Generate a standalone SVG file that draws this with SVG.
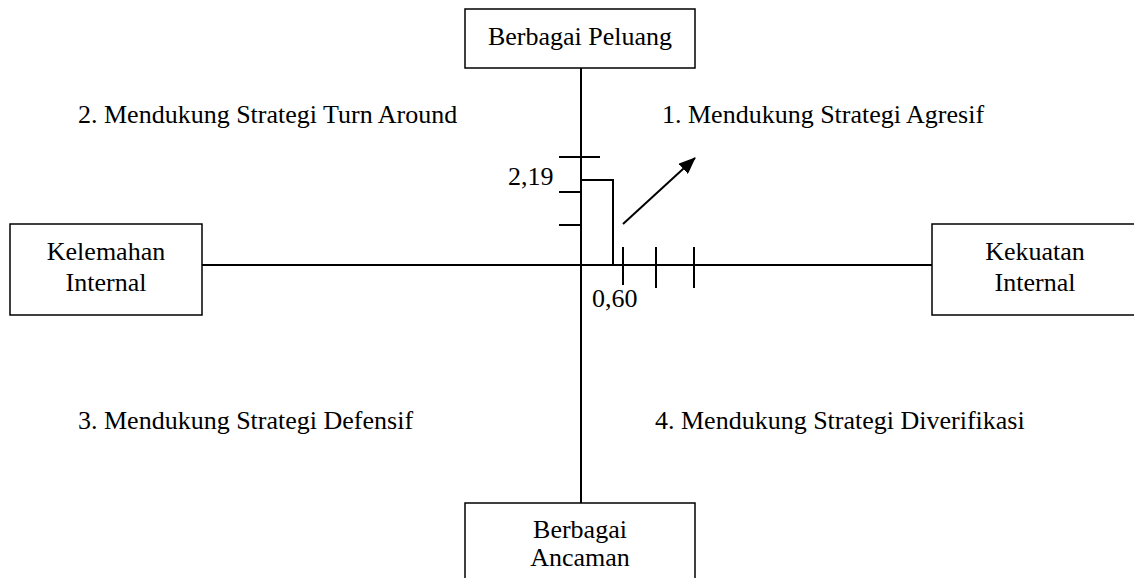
<svg xmlns="http://www.w3.org/2000/svg" width="1134" height="578" viewBox="0 0 1134 578">
<style>
text{font-family:"Liberation Serif","Times New Roman",serif;font-size:26px;fill:#000}
.c{text-anchor:middle}
.box{fill:#fff;stroke:#000;stroke-width:1.5}
.ln{stroke:#000;stroke-width:2;fill:none}
</style>
<defs>
<marker id="ah" markerWidth="17" markerHeight="14" refX="16" refY="7" orient="auto" markerUnits="userSpaceOnUse" viewBox="0 0 17 14">
<path d="M0,0 L17,7 L0,14 Z" fill="#000"/>
</marker>
</defs>
<g id="connectors">
<line class="ln" x1="581" y1="68" x2="581" y2="503"/>
<line class="ln" x1="202" y1="265" x2="932" y2="265"/>
<line class="ln" x1="559" y1="157" x2="600" y2="157"/>
<line class="ln" x1="559" y1="192" x2="581" y2="192"/>
<line class="ln" x1="559" y1="225" x2="581" y2="225"/>
<polyline class="ln" points="581,180 613,180 613,265"/>
<line class="ln" x1="623" y1="247" x2="623" y2="285"/>
<line class="ln" x1="656" y1="247" x2="656" y2="288"/>
<line class="ln" x1="694" y1="247" x2="694" y2="288"/>
<line class="ln" x1="623" y1="224" x2="695" y2="158" marker-end="url(#ah)"/>
</g>
<g id="peluang">
<rect class="box" x="465" y="9" width="230" height="59"/>
<text class="c" x="580" y="45">Berbagai Peluang</text>
</g>
<g id="ancaman">
<rect class="box" x="465" y="503" width="230" height="90"/>
<text class="c" x="580" y="538">Berbagai</text>
<text class="c" x="580" y="566">Ancaman</text>
</g>
<g id="kelemahan">
<rect class="box" x="10" y="224" width="192" height="91"/>
<text class="c" x="106" y="260">Kelemahan</text>
<text class="c" x="106" y="291">Internal</text>
</g>
<g id="kekuatan">
<rect class="box" x="932" y="224" width="215" height="91"/>
<text class="c" x="1035" y="260">Kekuatan</text>
<text class="c" x="1035" y="291">Internal</text>
</g>
<g id="labels">
<text x="78" y="123">2. Mendukung Strategi Turn Around</text>
<text x="662" y="123">1. Mendukung Strategi Agresif</text>
<text x="78" y="429">3. Mendukung Strategi Defensif</text>
<text x="655" y="429">4. Mendukung Strategi Diverifikasi</text>
<text x="508" y="185">2,19</text>
<text x="592" y="307">0,60</text>
</g>
</svg>
